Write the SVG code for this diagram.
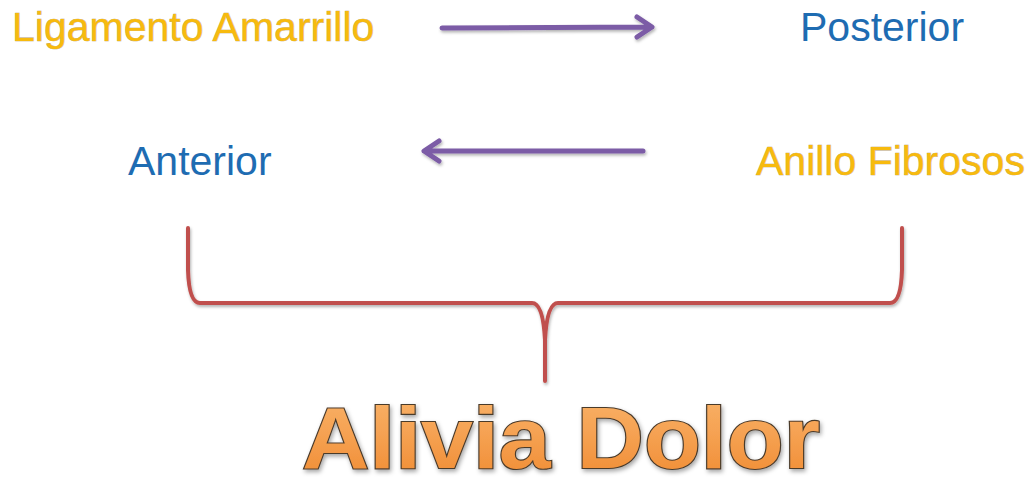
<svg xmlns="http://www.w3.org/2000/svg" width="1030" height="479" viewBox="0 0 1030 479">
<style>
.y{font-family:"Liberation Sans",Arial,sans-serif;font-size:41px;fill:#F7BA0E;stroke:#B8A070;stroke-width:0.6px;paint-order:stroke}
.b{font-family:"Liberation Sans",Arial,sans-serif;font-size:41px;fill:#1E6CB2}
.arr{stroke:#7B5BA6;stroke-width:5;fill:none;stroke-linecap:round;stroke-linejoin:round;filter:url(#sh)}
.brace{stroke:#C0504D;stroke-width:4;fill:none;stroke-linecap:round;stroke-linejoin:round;filter:url(#sh)}
.big{font-family:"Liberation Sans",Arial,sans-serif;font-weight:bold;font-size:87px;fill:url(#og);stroke:#4A3A2A;stroke-width:2.2px;paint-order:stroke}
</style>
<defs>
<filter id="sh" x="-10%" y="-50%" width="120%" height="200%">
<feDropShadow dx="1" dy="2" stdDeviation="1.5" flood-color="#000" flood-opacity="0.3"/>
</filter>
<linearGradient id="og" x1="0" y1="0" x2="0" y2="1">
<stop offset="0" stop-color="#F9B46A"/>
<stop offset="0.5" stop-color="#F5A050"/>
<stop offset="1" stop-color="#F08A30"/>
</linearGradient>
<filter id="tsh" x="-5%" y="-20%" width="110%" height="140%">
<feDropShadow dx="1.5" dy="2.5" stdDeviation="2" flood-color="#000" flood-opacity="0.35"/>
</filter>
</defs>
<g id="ligamento"><text class="y" x="12" y="41">Ligamento Amarrillo</text></g>
<g id="posterior"><text class="b" x="800" y="41">Posterior</text></g>
<g id="anterior"><text class="b" x="128" y="175">Anterior</text></g>
<g id="anillo"><text class="y" x="756" y="175">Anillo Fibrosos</text></g>
<g id="alivia"><text class="big" x="302" y="468" textLength="518" lengthAdjust="spacingAndGlyphs" filter="url(#tsh)">Alivia Dolor</text></g>
<g id="connectors">
<path class="arr" d="M442 28 L651 27 M637 17 L652 27 L637 37"/>
<path class="arr" d="M643 151 L425 151 M439 141 L424 151 L439 161"/>
<path class="brace" d="M188 228 L188 270 Q189 303 200 303 L532 303 Q543 303 545 340 L545 381 M545 381 L545 340 Q547 303 558 303 L890 303 Q901 303 902 270 L902 228"/>
</g>
</svg>
